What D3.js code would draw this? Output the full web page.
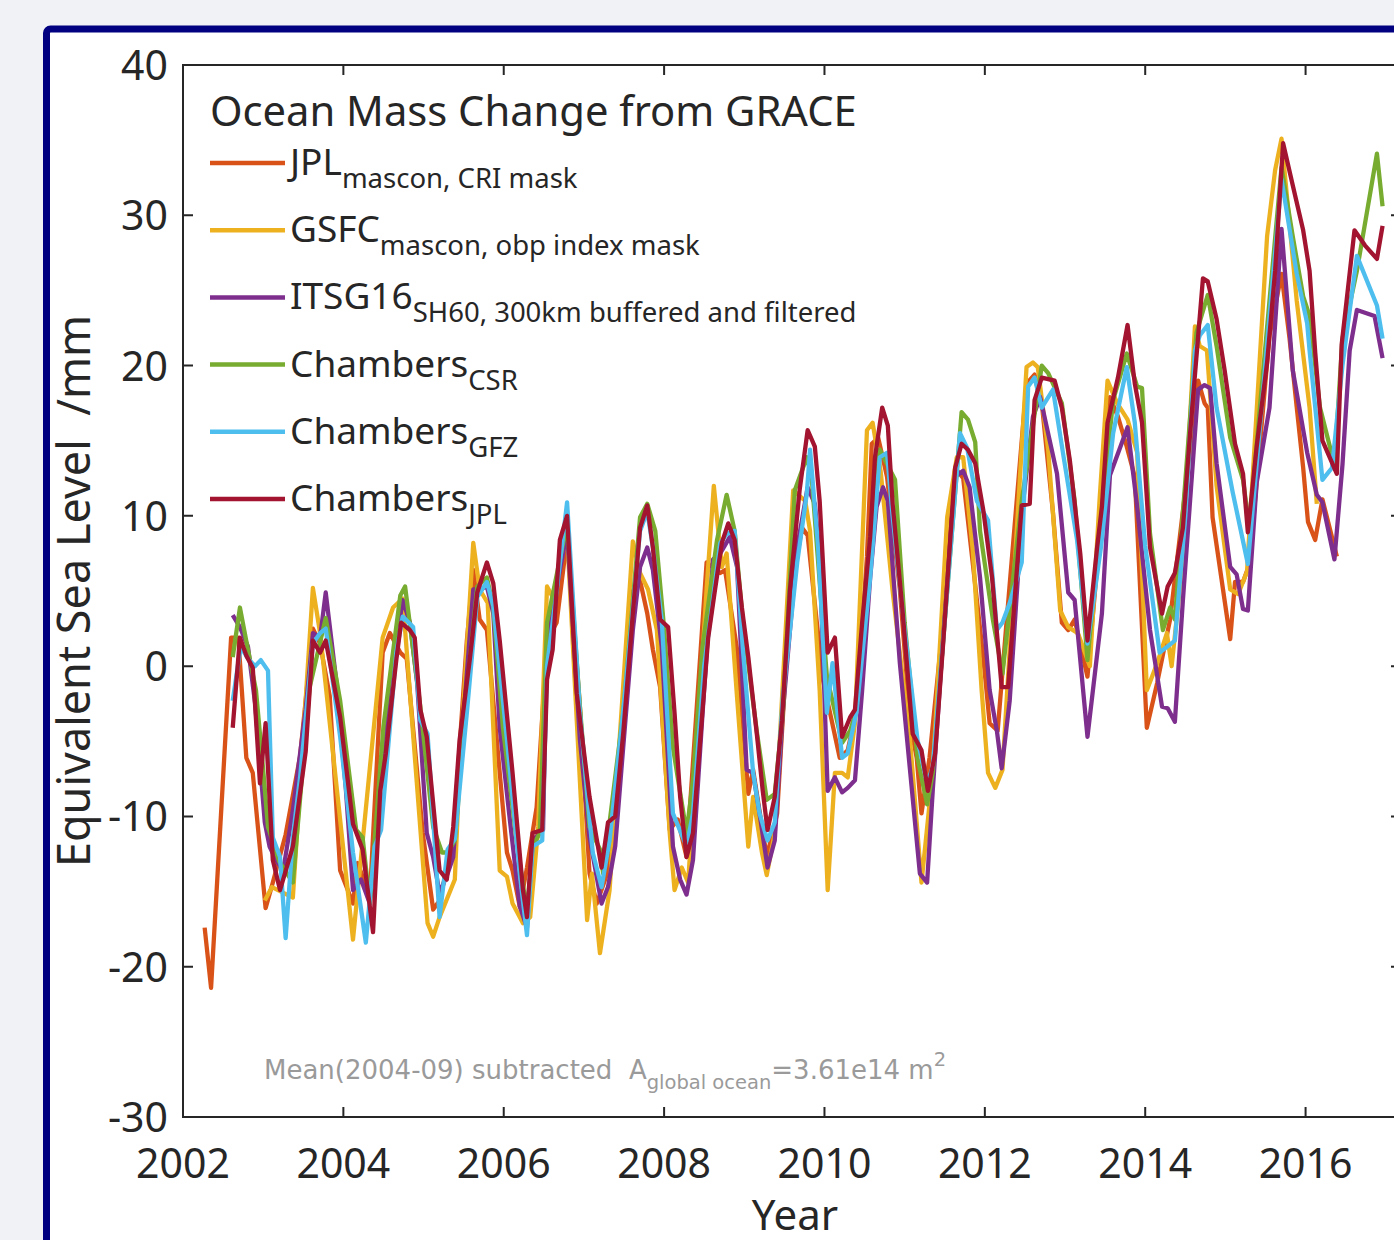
<!DOCTYPE html>
<html>
<head>
<meta charset="utf-8">
<script src="https://d3js.org/d3.v7.min.js"></script>
<style>
  html, body { margin: 0; padding: 0; background: #f0f2f5; overflow: hidden; }
  svg text { font-family: "Noto Sans", "Open Sans", sans-serif; fill: #262626; }
</style>
</head>
<body>
<svg id="chart"></svg>
<script>
// [decimal year, equivalent sea level in mm]
const jplMascon = [[2002.27,-17.4],[2002.35,-21.4],[2002.60,1.9],[2002.69,1.9],[2002.79,-6.1],[2002.87,-7.1],[2003.03,-16.1],[2003.12,-14.4],[2003.28,-11.2],[2003.46,-6],[2003.62,2.5],[2003.71,1.5],[2003.83,-2],[2003.96,-13.6],[2004.12,-15.8],[2004.18,-13.1],[2004.33,-15.4],[2004.49,0.9],[2004.58,2.2],[2004.71,0.9],[2004.79,0.5],[2004.99,-11.1],[2005.12,-16.2],[2005.20,-15.6],[2005.37,-11.6],[2005.54,1.7],[2005.62,6.4],[2005.70,3.1],[2005.79,2.4],[2005.95,-7.1],[2006.04,-12.4],[2006.11,-13.6],[2006.20,-16.0],[2006.29,-13.4],[2006.41,-9.4],[2006.54,1.7],[2006.66,2.9],[2006.79,8.5],[2006.95,-2.7],[2007.07,-13.8],[2007.16,-15.8],[2007.29,-13.8],[2007.49,-3],[2007.61,5],[2007.70,5.7],[2007.79,3.5],[2007.86,1.1],[2007.95,-1.4],[2008.07,-10.9],[2008.17,-10.2],[2008.28,-12.7],[2008.53,6.9],[2008.70,6.2],[2008.76,6.4],[2008.91,1.1],[2009.05,-8.5],[2009.11,-6.9],[2009.28,-12.7],[2009.41,-9.8],[2009.57,4.6],[2009.72,9.2],[2009.79,8.7],[2009.98,-0.9],[2010.19,-6.1],[2010.29,-5.6],[2010.40,-2.9],[2010.53,7.3],[2010.59,14.8],[2010.67,15.2],[2010.78,12.6],[2010.94,5.1],[2011.07,-3.8],[2011.15,-6.1],[2011.21,-9.8],[2011.31,-6.1],[2011.48,2.9],[2011.63,13.2],[2011.73,12.5],[2011.84,7.3],[2011.98,0.6],[2012.06,-3.8],[2012.16,-4.3],[2012.27,2.9],[2012.52,18.8],[2012.62,19.4],[2012.72,17.0],[2012.85,10.2],[2012.96,2.9],[2013.04,2.4],[2013.12,3.1],[2013.28,-0.7],[2013.43,8.4],[2013.56,17.9],[2013.66,16.6],[2013.77,14.6],[2013.87,12.6],[2014.02,-4.1],[2014.15,-1.1],[2014.31,3.1],[2014.56,14.4],[2014.66,19.0],[2014.74,17.5],[2014.78,17.2],[2014.84,9.9],[2015.06,1.8],[2015.12,5.6],[2015.22,5.6],[2015.30,6.8],[2015.55,22],[2015.70,26.1],[2015.80,21.8],[2015.89,17.2],[2015.97,13.2],[2016.03,9.6],[2016.12,8.4],[2016.21,11.1],[2016.39,7.3]];

const gsfcMascon = [[2003.02,-15.6],[2003.11,-14.7],[2003.37,-15.4],[2003.62,5.2],[2003.71,2.2],[2004.12,-18.2],[2004.49,1.9],[2004.62,3.9],[2004.74,4.5],[2005.05,-17.1],[2005.12,-18.0],[2005.20,-16.7],[2005.39,-14.2],[2005.45,-6.7],[2005.62,8.2],[2005.70,5.1],[2005.80,4.2],[2005.95,-13.6],[2006.04,-14.0],[2006.11,-15.8],[2006.24,-17.1],[2006.33,-16.7],[2006.43,-10.7],[2006.54,5.3],[2006.61,4.6],[2006.79,8.8],[2007.04,-16.9],[2007.10,-13.8],[2007.20,-19.1],[2007.32,-14.9],[2007.61,8.3],[2007.70,6.2],[2007.80,5.1],[2007.91,2.4],[2008.07,-11.1],[2008.13,-14.9],[2008.22,-13.4],[2008.30,-14.4],[2008.53,5.1],[2008.62,12.0],[2008.72,6.6],[2008.78,7.5],[2008.91,-2.1],[2009.05,-12.0],[2009.11,-8.7],[2009.22,-12.4],[2009.28,-13.9],[2009.38,-11.1],[2009.61,11.7],[2009.76,11.0],[2009.82,9.0],[2009.94,-1.6],[2010.04,-14.9],[2010.13,-7.1],[2010.22,-7.1],[2010.29,-7.4],[2010.38,-3.8],[2010.53,15.7],[2010.60,16.2],[2010.70,13],[2010.85,5],[2011.07,-5.1],[2011.21,-14.4],[2011.35,-7.1],[2011.53,9.9],[2011.65,13.9],[2011.73,13.9],[2011.85,7.7],[2011.96,-1.6],[2012.04,-7.1],[2012.13,-8.1],[2012.22,-6.9],[2012.52,19.9],[2012.60,20.2],[2012.66,19.9],[2012.79,14.4],[2012.94,3.7],[2013.04,2.6],[2013.16,2.2],[2013.31,0.0],[2013.43,11.0],[2013.53,19.0],[2013.65,17.5],[2013.78,16.4],[2013.90,14.2],[2014.02,-1.6],[2014.15,0.2],[2014.27,2.2],[2014.33,0.0],[2014.46,6.6],[2014.62,22.6],[2014.68,21.3],[2014.77,21.0],[2014.89,12],[2015.06,5.1],[2015.16,4.8],[2015.27,6.3],[2015.52,28.6],[2015.62,33.0],[2015.70,35.1],[2015.89,24.3],[2016.05,17.2],[2016.14,10.8]];

const itsg16 = [[2002.62,3.4],[2002.71,2.6],[2002.81,1.3],[2002.90,-2.5],[2003.02,-10.4],[2003.08,-12.0],[2003.16,-12.9],[2003.25,-13.6],[2003.37,-9.6],[2003.53,-2.9],[2003.62,2.2],[2003.71,1.9],[2003.78,4.9],[2003.91,-0.9],[2004.03,-8.1],[2004.12,-14.9],[2004.22,-14.2],[2004.33,-15.8],[2004.50,-5],[2004.66,1.5],[2004.74,4.4],[2004.83,2.9],[2004.92,-1.1],[2005.04,-11.1],[2005.12,-12.7],[2005.20,-15.1],[2005.30,-13.8],[2005.37,-12.7],[2005.54,-0.5],[2005.62,5.1],[2005.70,5.1],[2005.79,5.3],[2005.87,3.5],[2005.95,-4.1],[2006.08,-10.4],[2006.20,-16.0],[2006.29,-17.4],[2006.36,-11.6],[2006.49,-10.9],[2006.54,1.7],[2006.79,9.0],[2006.95,-4.9],[2007.07,-11.4],[2007.22,-15.8],[2007.30,-14.7],[2007.39,-12.0],[2007.49,-5.4],[2007.61,2.4],[2007.70,6.6],[2007.79,7.9],[2007.86,6.4],[2007.97,1.3],[2008.11,-12.0],[2008.20,-14.2],[2008.28,-15.2],[2008.36,-12.9],[2008.48,-3.1],[2008.61,7.1],[2008.70,7.5],[2008.82,8.6],[2008.91,6.6],[2009.03,-6.9],[2009.11,-7.1],[2009.19,-9.8],[2009.29,-13.4],[2009.38,-11.6],[2009.48,-3.1],[2009.66,7.9],[2009.79,11.9],[2009.88,10.8],[2009.94,7.3],[2010.04,-8.3],[2010.13,-7.4],[2010.22,-8.4],[2010.29,-8.1],[2010.38,-7.6],[2010.47,-1.6],[2010.57,5.9],[2010.65,10.6],[2010.73,11.9],[2010.79,11.0],[2010.94,0.2],[2011.07,-7.1],[2011.19,-13.8],[2011.28,-14.4],[2011.35,-8.3],[2011.48,1.9],[2011.63,12.6],[2011.73,13.0],[2011.81,11.9],[2011.94,5.9],[2012.06,-1.6],[2012.15,-4.3],[2012.21,-6.8],[2012.31,-2.3],[2012.47,10.6],[2012.60,16.6],[2012.69,17.9],[2012.90,12.8],[2013.04,4.9],[2013.12,4.4],[2013.28,-4.7],[2013.46,3.5],[2013.56,12.7],[2013.78,15.9],[2013.90,10.6],[2014.06,2.4],[2014.21,-2.7],[2014.28,-2.8],[2014.37,-3.7],[2014.47,4.4],[2014.66,18.4],[2014.74,18.7],[2014.81,18.5],[2014.89,13.5],[2015.06,6.6],[2015.14,6.1],[2015.22,3.8],[2015.28,3.7],[2015.39,12.2],[2015.55,17.2],[2015.70,29.1],[2015.84,19.7],[2016.02,14.2],[2016.14,11.4],[2016.21,10.9],[2016.36,7.1],[2016.46,13.4],[2016.55,21.0],[2016.64,23.7],[2016.86,23.3],[2016.96,20.5]];

const chambersCSR = [[2002.62,0.6],[2002.71,3.9],[2002.81,1.1],[2002.91,-1.6],[2003.00,-6.9],[2003.06,-10.7],[2003.20,-13],[2003.37,-14.4],[2003.58,-1.4],[2003.78,3.2],[2003.96,-2.3],[2004.16,-10.9],[2004.24,-11.4],[2004.33,-15.8],[2004.50,-4],[2004.71,4.7],[2004.77,5.3],[2004.96,-2.7],[2005.12,-10.7],[2005.23,-12.4],[2005.30,-12.4],[2005.39,-11.6],[2005.54,-1.6],[2005.67,5.3],[2005.79,5.9],[2005.87,3.9],[2005.99,-4.1],[2006.16,-11.6],[2006.29,-16.4],[2006.36,-12.0],[2006.45,-11.1],[2006.54,2.9],[2006.79,9.5],[2006.95,-2.7],[2007.07,-10.7],[2007.20,-12.2],[2007.24,-13.8],[2007.32,-10.4],[2007.49,-3.1],[2007.70,9.9],[2007.79,10.8],[2007.89,9.0],[2007.99,3.1],[2008.11,-5.4],[2008.28,-11.1],[2008.36,-7.6],[2008.48,1.3],[2008.66,8.4],[2008.78,11.4],[2008.88,9.0],[2008.98,3.1],[2009.16,-4.5],[2009.28,-8.9],[2009.38,-8.5],[2009.48,-3.1],[2009.63,11.7],[2009.78,13.9],[2009.84,12.6],[2010.03,-0.7],[2010.22,-5.1],[2010.32,-4.3],[2010.40,-2.9],[2010.57,8.6],[2010.69,14.4],[2010.88,12.4],[2011.00,2.9],[2011.16,-6.1],[2011.28,-9.2],[2011.35,-7.1],[2011.50,3],[2011.71,16.9],[2011.79,16.4],[2011.88,14.9],[2011.94,9.0],[2012.10,3.1],[2012.22,-0.5],[2012.46,11.0],[2012.71,20.0],[2012.79,19.5],[2012.96,17.5],[2013.12,11.0],[2013.28,0.4],[2013.43,8.8],[2013.60,17.7],[2013.77,20.8],[2013.90,18.6],[2013.96,18.5],[2014.06,8.8],[2014.22,2.4],[2014.31,3.9],[2014.37,3.1],[2014.64,22.2],[2014.78,24.7],[2014.89,21.3],[2015.06,15.2],[2015.22,12.4],[2015.30,9.1],[2015.43,17.2],[2015.70,33.2],[2015.84,28.6],[2015.97,24.6],[2016.05,23.3],[2016.18,17.2],[2016.36,13.4],[2016.46,21.8],[2016.64,26.3],[2016.89,34.1],[2016.96,30.6]];

const chambersGFZ = [[2002.62,-2.3],[2002.72,1.3],[2002.81,0.5],[2002.90,0.0],[2002.97,0.4],[2003.06,-0.3],[2003.12,-11.4],[2003.21,-12.7],[2003.28,-18.1],[2003.37,-11.4],[2003.46,-7.4],[2003.62,1.5],[2003.71,2.2],[2003.78,2.5],[2003.96,-4.7],[2004.12,-12.4],[2004.28,-18.4],[2004.39,-12.0],[2004.47,-10.9],[2004.66,0.9],[2004.74,3.3],[2004.87,2.6],[2004.96,-3.6],[2005.05,-4.5],[2005.20,-16.7],[2005.30,-12.2],[2005.39,-11.5],[2005.54,-3.1],[2005.67,4.6],[2005.79,5.6],[2005.87,4],[2006.04,-4.9],[2006.20,-13.8],[2006.29,-17.9],[2006.36,-12.0],[2006.48,-11.6],[2006.54,0],[2006.66,5],[2006.79,10.9],[2006.95,-3.1],[2007.11,-12.4],[2007.22,-14.7],[2007.32,-11.6],[2007.49,-3],[2007.70,9.0],[2007.79,10.3],[2007.86,7.9],[2007.97,3.1],[2008.11,-9.8],[2008.28,-12.0],[2008.36,-9.8],[2008.50,0],[2008.70,8.2],[2008.78,8.8],[2008.88,9.0],[2008.98,1.3],[2009.11,-7.1],[2009.19,-9.8],[2009.29,-11.6],[2009.38,-10.4],[2009.48,-2.1],[2009.66,6.9],[2009.78,11.5],[2009.82,14.4],[2009.92,8],[2010.03,-3.1],[2010.10,0.2],[2010.22,-6.1],[2010.29,-5.8],[2010.40,-3],[2010.57,5.9],[2010.69,13.9],[2010.78,14.2],[2010.85,10],[2010.99,2.9],[2011.16,-4.9],[2011.28,-7.8],[2011.35,-6.7],[2011.50,3],[2011.69,15.5],[2011.78,14.5],[2011.90,11.0],[2012.04,9.7],[2012.15,2.4],[2012.22,2.9],[2012.31,4.2],[2012.46,6.9],[2012.54,18.6],[2012.62,19.2],[2012.71,17.2],[2012.85,18.4],[2012.98,14],[2013.15,8.4],[2013.28,1.5],[2013.45,8],[2013.60,15.5],[2013.77,19.9],[2013.87,16.2],[2014.00,8],[2014.18,0.9],[2014.37,1.7],[2014.50,10],[2014.62,21.0],[2014.68,22.0],[2014.78,22.7],[2014.89,17.2],[2015.09,11.6],[2015.28,6.8],[2015.43,15.9],[2015.70,32.4],[2015.89,26.1],[2016.02,22.8],[2016.05,21.0],[2016.21,12.4],[2016.33,13.2],[2016.46,20],[2016.64,27.3],[2016.89,24.0],[2016.96,21.8]];

const chambersJPL = [[2002.62,-4.1],[2002.71,1.9],[2002.79,0.7],[2002.87,-0.1],[2002.96,-7.8],[2003.03,-3.8],[2003.12,-12.9],[2003.21,-14.9],[2003.37,-12.0],[2003.53,-5.7],[2003.62,1.7],[2003.71,0.9],[2003.78,1.7],[2003.96,-3.4],[2004.12,-10.5],[2004.24,-12.2],[2004.37,-17.7],[2004.46,-8.3],[2004.53,-5.8],[2004.66,0.4],[2004.72,2.9],[2004.83,2.4],[2004.89,1.9],[2004.96,-2.9],[2005.04,-4.7],[2005.20,-13.6],[2005.29,-14.2],[2005.37,-10.7],[2005.45,-4.9],[2005.58,0.6],[2005.67,4.9],[2005.79,6.9],[2005.87,5.5],[2005.95,1.7],[2006.11,-7.1],[2006.24,-14.9],[2006.29,-16.7],[2006.36,-11.1],[2006.48,-10.9],[2006.54,-0.9],[2006.61,1.1],[2006.70,8.4],[2006.79,10.0],[2006.91,-1.8],[2007.07,-8.7],[2007.22,-13.4],[2007.30,-10.4],[2007.39,-10.0],[2007.49,-4.5],[2007.61,3.5],[2007.70,9.2],[2007.79,10.7],[2007.86,7.9],[2007.95,3.1],[2008.05,2.6],[2008.13,-3.1],[2008.20,-8.7],[2008.28,-12.7],[2008.36,-11.1],[2008.45,-4.9],[2008.55,1.9],[2008.63,4.9],[2008.72,8.2],[2008.80,9.5],[2008.88,8.4],[2008.97,3.9],[2009.05,0.6],[2009.16,-4.7],[2009.23,-8.3],[2009.29,-10.9],[2009.38,-8.7],[2009.47,-3.6],[2009.57,5.1],[2009.69,11.7],[2009.79,15.7],[2009.88,14.6],[2009.94,11.0],[2010.04,0.9],[2010.13,1.9],[2010.22,-4.7],[2010.32,-3.4],[2010.38,-2.9],[2010.47,2.9],[2010.57,8.6],[2010.63,13.9],[2010.72,17.2],[2010.79,16.0],[2010.85,10.8],[2010.97,3.9],[2011.10,-4.5],[2011.21,-5.6],[2011.29,-8.3],[2011.38,-5.8],[2011.48,1.5],[2011.63,13.2],[2011.71,14.8],[2011.79,14.4],[2011.88,13.5],[2011.98,10.4],[2012.09,5.9],[2012.21,-1.4],[2012.29,-1.4],[2012.46,10.7],[2012.56,10.8],[2012.62,17.7],[2012.71,19.2],[2012.87,19.0],[2012.96,17.2],[2013.06,13.7],[2013.19,7.5],[2013.28,1.7],[2013.40,7.9],[2013.46,10.6],[2013.53,16.2],[2013.66,19.2],[2013.78,22.7],[2013.87,18.8],[2013.96,16.2],[2014.06,7.9],[2014.21,3.5],[2014.28,5.3],[2014.37,6.2],[2014.47,9.2],[2014.56,15.5],[2014.72,25.8],[2014.78,25.6],[2014.89,23.1],[2014.99,19.7],[2015.12,14.8],[2015.22,12.8],[2015.28,8.9],[2015.39,14.6],[2015.52,20.2],[2015.62,26.3],[2015.72,34.8],[2015.84,32.0],[2015.97,29.0],[2016.05,26.3],[2016.12,20.9],[2016.21,15.0],[2016.39,12.8],[2016.45,21.4],[2016.61,29.0],[2016.74,28.0],[2016.89,27.1],[2016.96,29.3]];

const seriesNames = ["JPL", "GSFC", "ITSG16", "Chambers", "Chambers", "Chambers"];
const seriesSubs = ["mascon, CRI mask", "mascon, obp index mask", "SH60, 300km buffered and filtered", "CSR", "GFZ", "JPL"];
const seriesColors = ["#D95319", "#EDB120", "#7E2F8E", "#77AC30", "#4DBEEE", "#A2142F"];
const xTicks = [2002, 2004, 2006, 2008, 2010, 2012, 2014, 2016];
const yTicks = [-30, -20, -10, 0, 10, 20, 30, 40];

const allSeries = [jplMascon, gsfcMascon, itsg16, chambersCSR, chambersGFZ, chambersJPL];

const W = 1394, H = 1240;
const svg = d3.select("#chart").attr("width", W).attr("height", H);

// navy frame round the white figure (runs off the right and bottom)
svg.append("rect")
  .attr("x", 46.5).attr("y", 29).attr("width", 1500).attr("height", 1400)
  .attr("rx", 4)
  .attr("fill", "#fff").attr("stroke", "#000080").attr("stroke-width", 7);

const pLeft = 183, pRight = 1401, pTop = 65, pBottom = 1117;
const x = d3.scaleLinear().domain([2002, 2017.19]).range([pLeft, pRight]);
const y = d3.scaleLinear().domain([-30, 40]).range([pBottom, pTop]);

const axisColor = "#262626";
const tick = 10;

// box + inward ticks
svg.append("rect")
  .attr("x", pLeft).attr("y", pTop).attr("width", pRight - pLeft).attr("height", pBottom - pTop)
  .attr("fill", "none").attr("stroke", axisColor).attr("stroke-width", 2);

svg.append("g").selectAll("path").data(xTicks).join("path")
  .attr("d", d => `M${x(d)},${pBottom}v${-tick}M${x(d)},${pTop}v${tick}`)
  .attr("stroke", axisColor).attr("stroke-width", 2);
svg.append("g").selectAll("path").data(yTicks).join("path")
  .attr("d", d => `M${pLeft},${y(d)}h${tick}M${pRight},${y(d)}h${-tick}`)
  .attr("stroke", axisColor).attr("stroke-width", 2);

svg.append("g").selectAll("text").data(xTicks).join("text")
  .attr("x", d => x(d)).attr("y", 1178)
  .attr("text-anchor", "middle").attr("font-size", 41)
  .text(d => d);
svg.append("g").selectAll("text").data(yTicks).join("text")
  .attr("x", 168).attr("y", d => y(d) + 15)
  .attr("text-anchor", "end").attr("font-size", 41)
  .text(d => d);

svg.append("text").attr("x", 795).attr("y", 1230)
  .attr("text-anchor", "middle").attr("font-size", 42).text("Year");
svg.append("text")
  .attr("transform", "translate(90,591) rotate(-90)")
  .attr("text-anchor", "middle").attr("font-size", 45)
  .attr("xml:space", "preserve")
  .text("Equivalent Sea Level  /mm");

// data lines
const line = d3.line().x(d => x(d[0])).y(d => y(d[1]));
svg.append("g").selectAll("path").data(allSeries).join("path")
  .attr("d", line)
  .attr("fill", "none")
  .attr("stroke", (d, i) => seriesColors[i])
  .attr("stroke-width", 4.3)
  .attr("stroke-linejoin", "round");

// legend
svg.append("text").attr("x", 210).attr("y", 126).attr("font-size", 41.7)
  .text("Ocean Mass Change from GRACE");

const leg = svg.append("g").selectAll("g").data(seriesNames).join("g")
  .attr("transform", (d, i) => `translate(0,${163 + i * 67.2})`);
leg.append("line").attr("x1", 210).attr("x2", 285).attr("y1", 0).attr("y2", 0)
  .attr("stroke", (d, i) => seriesColors[i]).attr("stroke-width", 4.5);
const lt = leg.append("text").attr("x", 290).attr("y", 12);
lt.append("tspan").attr("font-size", 37).text(d => d);
lt.append("tspan").attr("font-size", 27.5).attr("dy", 13).text((d, i) => seriesSubs[i]);

// note
const note = svg.append("text").attr("x", 264).attr("y", 1079)
  .attr("font-size", 26).attr("xml:space", "preserve")
  .style("font-family", "'DejaVu Sans', sans-serif").style("fill", "#9a9a9a");
note.append("tspan").text("Mean(2004-09) subtracted  A");
note.append("tspan").attr("font-size", 19.5).attr("dy", 10).text("global ocean");
note.append("tspan").attr("dy", -10).text("=3.61e14 m");
note.append("tspan").attr("font-size", 19.5).attr("dy", -13).text("2");
</script>
</body>
</html>
